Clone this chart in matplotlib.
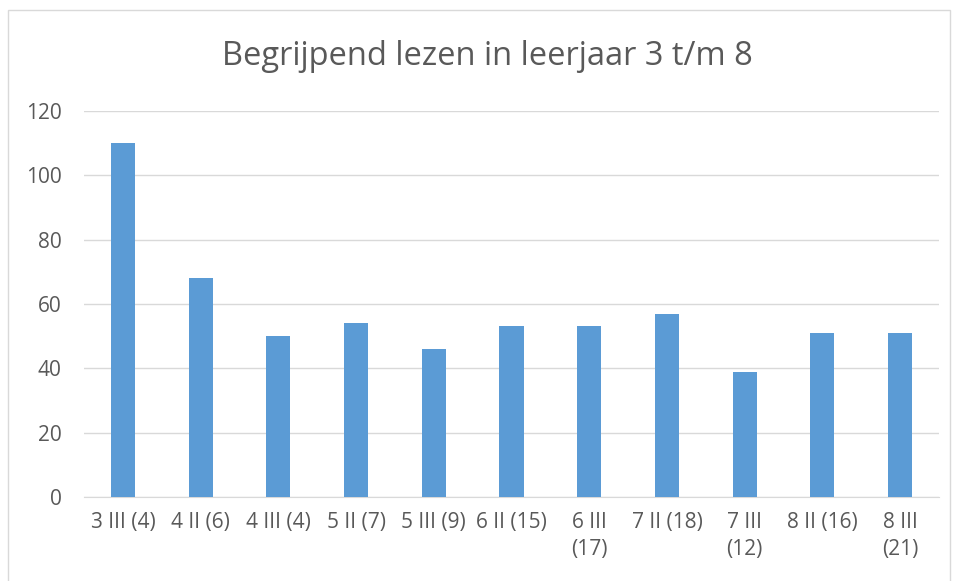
import matplotlib.pyplot as plt
from matplotlib.patches import Rectangle

plt.rcParams['font.family'] = ['Open Sans', 'DejaVu Sans']

labels = ['3 III (4)', '4 II (6)', '4 III (4)', '5 II (7)', '5 III (9)', '6 II (15)',
          '6 III\n(17)', '7 II (18)', '7 III\n(12)', '8 II (16)', '8 III\n(21)']
values = [110, 68, 50, 54, 46, 53, 53, 57, 39, 51, 51]
yticks = [0, 20, 40, 60, 80, 100, 120]

text_col = '#595959'
fig = plt.figure(figsize=(9.56, 5.81), dpi=100)
ax = fig.add_axes([0.0879, 0.1446, 0.8943, 0.6644])

x = list(range(len(labels)))
ax.bar(x, values, width=0.31, color='#5B9BD5', zorder=3)
ax.set_xlim(-0.5, len(labels) - 0.5)
ax.set_ylim(0, 120)
ax.set_yticks(yticks)
ax.set_xticks(x)
ax.set_xticklabels(labels, fontsize=15, color=text_col, linespacing=1.35)
ax.tick_params(axis='y', labelsize=15, colors=text_col, length=0, pad=16)
ax.tick_params(axis='x', length=0, pad=11)
ax.grid(axis='y', color='#D9D9D9', linewidth=1, zorder=0)
for s in ['top', 'right', 'left']:
    ax.spines[s].set_visible(False)
ax.spines['bottom'].set_color('#D9D9D9')

fig.text(0.5094, 0.902, 'Begrijpend lezen in leerjaar 3 t/m 8', ha='center', va='center',
         fontsize=23.5, color=text_col)

fig.patches.append(Rectangle((8 / 956, -0.01), 942 / 956, 1 - 10 / 581 + 0.01,
                             transform=fig.transFigure, fill=False,
                             edgecolor='#D9D9D9', linewidth=1))

fig.savefig('out.png', dpi=100)
